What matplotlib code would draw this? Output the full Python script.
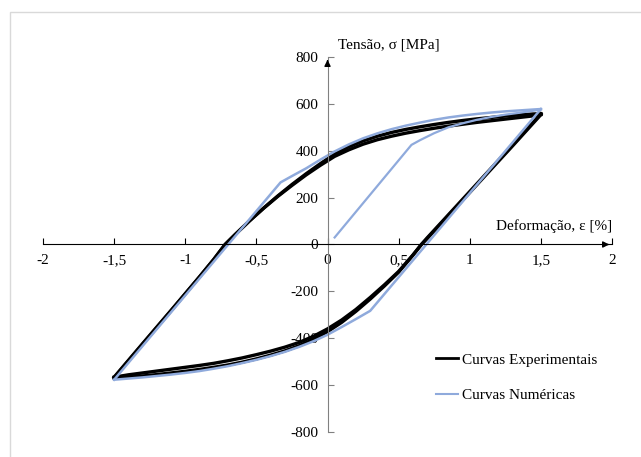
import matplotlib
matplotlib.use("Agg")
import matplotlib.pyplot as plt
from matplotlib.patches import Rectangle

plt.rcParams["font.family"] = ["Liberation Serif", "DejaVu Serif"]
plt.rcParams["axes.unicode_minus"] = False

# experimental loops (black) - two cycles forming the thick band
exp_up_x = [-1.50, -1.30, -1.10, -0.90, -0.80, -0.72, -0.65, -0.55, -0.45, -0.35, -0.25,
            -0.15, -0.05, 0.05, 0.15, 0.25, 0.35, 0.45, 0.55, 0.65, 0.75, 0.85, 0.95,
            1.05, 1.15, 1.25, 1.35, 1.45, 1.50]
exp_up_y1 = [-568, -425, -283, -138, -64, 0, 42, 100, 155, 207, 256,
             302, 345, 386, 417, 442, 462, 478, 491, 502, 512, 521, 529,
             536, 542, 548, 553, 557, 558]
exp_up_y2 = [-566, -423, -281, -138, -64, 0, 42, 100, 154, 205, 252,
             297, 338, 376, 404, 428, 447, 462, 475, 486, 496, 505, 513,
             521, 528, 535, 542, 549, 554]
exp_dn_x = [1.50, 1.30, 1.10, 0.90, 0.70, 0.66, 0.60, 0.50, 0.40, 0.30, 0.20, 0.10,
            0.00, -0.10, -0.20, -0.30, -0.40, -0.50, -0.60, -0.70, -0.80, -0.90,
            -1.00, -1.10, -1.20, -1.30, -1.40, -1.50]
exp_dn_y1 = [558, 424, 292, 160, 28, 0, -45, -115, -172, -226, -277, -322,
             -360, -392, -418, -438, -455, -470, -484, -496, -507, -516,
             -524, -532, -540, -548, -556, -566]
exp_dn_y2 = [554, 420, 288, 156, 25, 0, -46, -118, -177, -233, -285, -332,
             -372, -405, -432, -454, -472, -488, -502, -514, -524, -533,
             -541, -548, -555, -561, -566, -570]

# numerical curves (blue)
num_init_x = [0.05, 0.59, 0.65, 0.75, 0.85, 0.95, 1.05, 1.15, 1.25, 1.35, 1.45, 1.50]
num_init_y = [30, 425, 445, 475, 500, 517, 532, 544, 554, 562, 571, 576]
num_dn_x = [1.50, 0.30, 0.20, 0.10, 0.00, -0.10, -0.20, -0.30, -0.40, -0.50, -0.60,
            -0.70, -0.80, -0.90, -1.00, -1.10, -1.20, -1.30, -1.40, -1.50]
num_dn_y = [578, -283, -318, -352, -385, -413, -437, -458, -476, -492, -506,
            -519, -530, -540, -548, -555, -561, -567, -572, -577]
num_up_x = [-1.50, -0.33, -0.25, -0.15, -0.05, 0.05, 0.15, 0.25, 0.35, 0.45, 0.55,
            0.65, 0.75, 0.85, 0.95, 1.05, 1.15, 1.25, 1.35, 1.45, 1.50]
num_up_y = [-577, 265, 292, 325, 362, 397, 427, 453, 474, 492, 507,
            520, 532, 542, 550, 557, 563, 568, 572, 576, 578]

xticks = [-2, -1.5, -1, -0.5, 0, 0.5, 1, 1.5, 2]
xlabels = ["-2", "-1,5", "-1", "-0,5", "0", "0,5", "1", "1,5", "2"]
yticks = [-800, -600, -400, -200, 0, 200, 400, 600, 800]

blue = "#8FAADC"

fig = plt.figure(figsize=(6.41, 4.57), dpi=100)
ax = fig.add_axes([0.0671, 0.0547, 0.8877, 0.8206])

ax.plot(exp_up_x, exp_up_y1, color="black", lw=2.4, label="Curvas Experimentais")
ax.plot(exp_up_x, exp_up_y2, color="black", lw=2.4)
ax.plot(exp_dn_x, exp_dn_y1, color="black", lw=2.4)
ax.plot(exp_dn_x, exp_dn_y2, color="black", lw=2.4)
ax.plot(num_init_x, num_init_y, color=blue, lw=1.6, label="Curvas Numéricas")
ax.plot(num_dn_x, num_dn_y, color=blue, lw=1.8)
ax.plot(num_up_x, num_up_y, color=blue, lw=1.8)

ax.set_xlim(-2, 2)
ax.set_ylim(-800, 800)
ax.spines["left"].set_position(("data", 0))
ax.spines["bottom"].set_position(("data", 0))
ax.spines["top"].set_visible(False)
ax.spines["right"].set_visible(False)
ax.spines["left"].set_color("#808080")
ax.spines["bottom"].set_color("black")
ax.set_xticks(xticks)
ax.set_xticklabels(xlabels)
ax.set_yticks(yticks)
ax.tick_params(axis="x", direction="in", length=4, pad=7, labelsize=11, color="black")
ax.tick_params(axis="y", direction="in", length=4, pad=6.5, labelsize=11, color="#808080")

# arrow heads on the axes
ax.annotate("", xy=(2.0, 0), xytext=(1.95, 0),
            arrowprops=dict(arrowstyle="-|>", color="black", lw=1, mutation_scale=9))
ax.annotate("", xy=(0, 800), xytext=(0, 770),
            arrowprops=dict(arrowstyle="-|>", color="black", lw=1, mutation_scale=9))

fig.text(338 / 641, 1 - 45 / 457, "Tensão, σ [MPa]", fontsize=11, ha="left", va="center")
fig.text(612 / 641, 1 - 226 / 457, "Deformação, ε [%]", fontsize=11, ha="right", va="center")

leg = fig.legend(loc="center left", bbox_to_anchor=(436 / 641, 1 - 377.5 / 457),
                 frameon=False, fontsize=11, borderpad=0, borderaxespad=0,
                 handlelength=1.45, handletextpad=0.25, labelspacing=1.4)
leg.get_lines()[0].set_linewidth(2)
leg.get_lines()[1].set_linewidth(1.5)

fig.patches.append(Rectangle((9.5 / 641, -0.1), 1.2, 0.1 + (457 - 11.5) / 457,
                             transform=fig.transFigure, fill=False,
                             edgecolor="#d9d9d9", lw=1))

fig.savefig("out.png", dpi=100)
